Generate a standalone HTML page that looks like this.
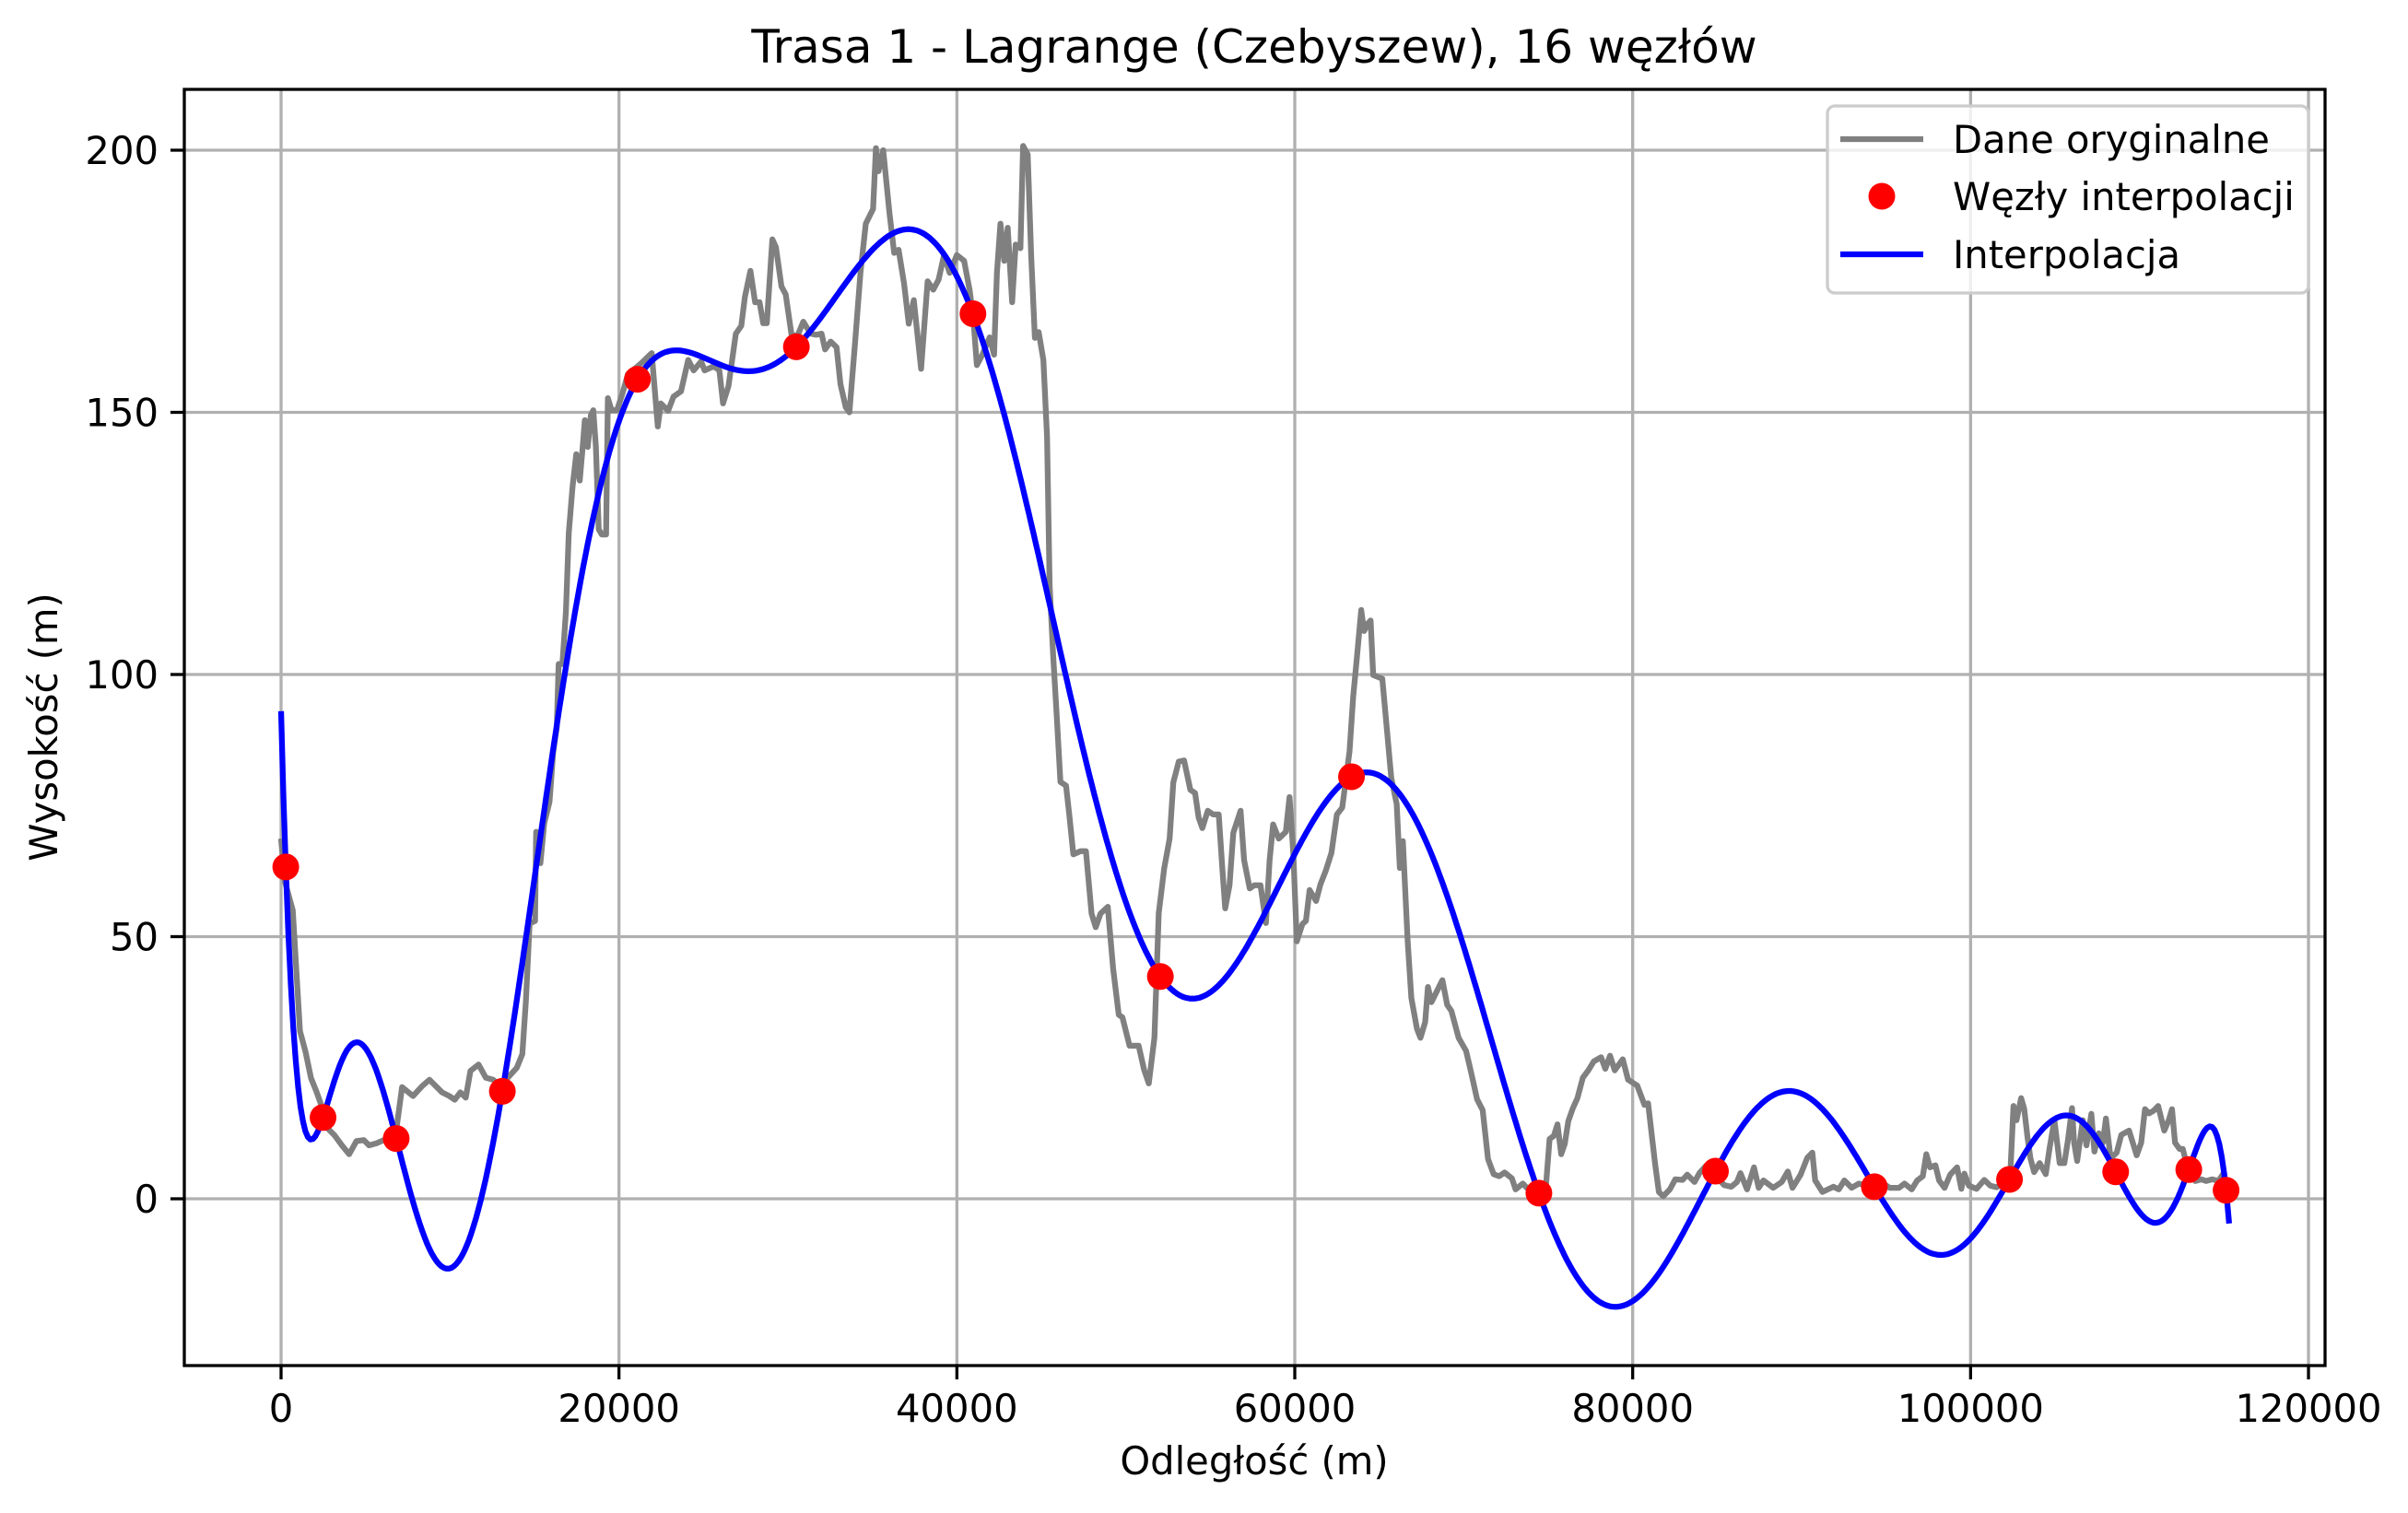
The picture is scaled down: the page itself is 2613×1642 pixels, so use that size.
<!DOCTYPE html>
<html><head><meta charset="utf-8">
<style>
html,body{margin:0;padding:0;background:#fff;}
svg{display:block;}
text{font-family:"DejaVu Sans","Liberation Sans",sans-serif;fill:#000;}
</style></head>
<body>
<svg id="chart" width="2613" height="1642" viewBox="0 0 2613 1642" xmlns="http://www.w3.org/2000/svg">
<rect x="0" y="0" width="2613" height="1642" fill="#fff"/>
<g id="grid"></g>
<g id="plot"></g>
<rect x="200" y="97" width="2323" height="1385" fill="none" stroke="#000" stroke-width="3.3"/>
<g id="ticks"></g>
<text x="1361" y="68" font-size="50" text-anchor="middle">Trasa 1 - Lagrange (Czebyszew), 16 węzłów</text>
<text x="1361" y="1600" font-size="41.7" text-anchor="middle">Odległość (m)</text>
<text x="0" y="0" font-size="41.7" text-anchor="middle" transform="translate(62,789) rotate(-90)">Wysokość (m)</text>
<g>
<rect x="1983" y="115" width="522" height="203" rx="8" fill="#fff" fill-opacity="0.8" stroke="#cccccc" stroke-width="3.3"/>
<line x1="1997" y1="151" x2="2087" y2="151" stroke="#808080" stroke-width="6.25"/>
<text x="2119" y="166" font-size="41.7">Dane oryginalne</text>
<circle cx="2042" cy="213" r="14.5" fill="#ff0000"/>
<text x="2119" y="228" font-size="41.7">Węzły interpolacji</text>
<line x1="1997" y1="276" x2="2087" y2="276" stroke="#0000ff" stroke-width="6.25"/>
<text x="2119" y="291" font-size="41.7">Interpolacja</text>
</g>
</svg>
<script>
const xTicks=[0,20000,40000,60000,80000,100000,120000];
const yTicks=[0,50,100,150,200];
const distances=[0,216,690,1120,1450,1770,2090,2410,2740,3170,3600,4030,4460,4900,5210,5650,6080,6730,7160,7810,8350,8780,9530,9960,10280,10610,10930,11210,11690,12120,12550,12990,13420,13950,14280,14490,14710,15030,15100,15350,15570,15890,16100,16320,16430,16650,16860,17030,17250,17470,17680,17850,17980,18150,18330,18480,18630,18800,18980,19240,19340,19560,19880,20200,20530,20960,21400,21940,22300,22480,22910,23230,23670,24100,24420,24860,25070,25620,25940,26160,26480,26920,27240,27450,27780,28060,28320,28540,28750,29080,29290,29620,29870,30220,30580,30910,31340,31660,31990,32200,32530,32880,33110,33420,33640,33960,34290,34610,35040,35210,35360,35640,36010,36290,36550,36870,37150,37450,37880,38270,38600,38920,39240,39570,40000,40430,40750,40970,41180,41510,41940,42200,42370,42580,42800,43010,43270,43480,43760,43920,44190,44400,44620,44840,45120,45340,45490,45700,45920,46130,46460,46670,46890,47320,47640,47970,48220,48500,48930,49250,49580,49800,50220,50760,51080,51360,51690,51950,52270,52590,52810,53130,53450,53820,54100,54310,54530,54850,55170,55500,55710,55880,56140,56360,56790,57000,57330,57610,57970,58290,58510,58720,59050,59470,59690,59910,60120,60450,60660,60880,61260,61520,61840,62170,62490,62810,63240,63460,63670,63930,64100,64320,64490,64640,65180,65500,65710,66030,66220,66400,66680,66900,67230,67440,67720,67880,68090,68410,68740,69020,69270,69700,70140,70470,70790,71120,71440,71770,72090,72420,72850,73070,73500,73820,74370,74860,75080,75330,75550,75770,75980,76190,76450,76730,77050,77370,77700,78130,78380,78660,78940,79410,79730,80270,80700,80910,81340,81550,81810,82200,82520,82950,83230,83660,83950,84340,85420,85840,86170,86380,86770,87180,87460,87740,88320,88820,89180,89460,89940,90330,90630,90800,91230,91880,92200,92530,92960,93390,94140,94680,95220,95760,96090,96520,96840,97170,97380,97600,97920,98140,98460,98790,99200,99450,99630,99900,100350,100810,101170,101540,102080,102360,102540,102720,102990,103170,103360,103540,103760,104090,104450,104670,104960,105270,105550,105770,106000,106130,106310,106640,106860,107150,107330,107590,107830,108010,108290,108650,108920,109380,109830,110100,110320,110560,110830,111100,111460,111740,111920,112100,112370,112560,112740,113300,113670,113940,114300,114670,115000];
const elevations=[68.7,60.6,55,32,28,23,20.5,17.6,13.5,12.1,10.2,8.5,11,11.2,10.2,10.6,11.2,11,21.3,19.6,21.5,22.7,20.3,19.6,18.9,20.3,19.3,24.4,25.6,23.1,22.7,21.5,23.1,25,27.6,37.8,52.5,53,70,64,71.6,75.7,85,90,102,102,112,127,135.8,142,137,143.4,148.5,143.4,149.4,150.4,143.5,127.7,126.7,126.7,152.7,150.4,150.4,153.5,157.3,158.4,159.6,161.3,147.3,151.7,150.3,153,154,160,158,159.7,158,158.8,158,151.7,155,165,166.5,172,177,171,171,167,167,183,181.5,174,172.5,164.7,164.7,167.3,165,164.8,165,162,163.5,162.4,155.4,151,150,162.7,176.6,186,188.8,200.4,196,200,188,180.4,181,174.6,166.9,171.4,158.3,175,173.4,175.3,180,176.6,180,178.9,173.4,168.2,159,161,164.3,161,176.6,186,178.9,185.2,171,182,181.3,200.8,199.2,179.7,164.2,165.3,160,145.3,117,103.7,91.5,79.5,78.8,72.8,65.7,66.3,66.3,54.4,51.8,54.4,55.7,43.9,35.1,34.6,29.2,29.2,24.6,22,30.7,54.5,63,68.7,79.4,83.4,83.6,78,77.4,72.7,70.7,74,73.3,73.3,63,55.4,59.8,69.8,74,64.6,59.2,59.8,59.8,52.6,64.6,71.4,68.7,70,76.6,66,49.1,52.4,53,58.9,56.8,60,62.6,66,73.3,74.6,85.3,95.8,103,112.3,108.3,109.7,110.3,99.9,99.2,87.9,80.3,75.3,63.1,68.2,49.2,38.3,32.4,30.7,33.7,40.4,37.5,39.6,41.7,37,35.8,30.7,28.2,23.6,19,16.9,7.6,4.7,4.3,5,3.9,1.8,2.9,1.8,1.1,2.1,11.4,12,14.2,8.5,10.5,14.8,17.2,19.2,23.1,24.5,26.2,27,24.8,27.3,24.5,26.6,22.7,21.6,17.9,18.2,6.4,1.3,0.5,1.8,3.7,3.6,4.6,3.2,4.9,6.3,2.6,2.3,3.2,4.9,1.8,6,2.1,3.5,2.1,3.2,5.2,2.1,4.6,7.8,8.8,3.5,1.3,2.3,1.8,3.5,2.1,2.9,2.3,3.2,2.1,2.1,2.9,1.8,3.5,4.3,8.5,6,6.4,3.5,2.1,4.6,6,1.9,4.8,2.5,1.9,3.6,2.5,2.2,3.4,5.4,17.7,15,19.2,17.2,11.9,7.7,5.1,6.8,4.7,9.6,15,6.8,6.8,11.3,17.3,10.7,7.2,15,10.2,16.2,9,12.5,10.7,15.3,7.7,8.8,12.2,13,8.3,10.7,17.1,16.3,16.8,17.7,13,15.1,17.1,10.7,9.5,9.5,7.2,3.4,3.7,3.4,3.7,3.4,5];
const nodeX=[278,2485,6813,13097,21096,30500,40951,52044,63356,74449,84900,94304,102303,108587,112915,115122];
const nodeY=[63.3,15.5,11.5,20.5,156.3,162.5,168.8,42.4,80.5,1.07,5.27,2.3,3.7,5.15,5.57,1.63];
const interpRange=[0,115300];

const NS="http://www.w3.org/2000/svg";
function X(v){return 305+v/20000*366.67;}
function Y(v){return 1301-v*5.69;}
const grid=document.getElementById('grid'),ticks=document.getElementById('ticks'),plot=document.getElementById('plot');
function mk(tag,attrs,parent){const e=document.createElementNS(NS,tag);for(const k in attrs)e.setAttribute(k,attrs[k]);parent.appendChild(e);return e;}
xTicks.forEach(t=>{
  const gl=mk('line',{x1:X(t),x2:X(t),y1:97,y2:1482,stroke:'#b0b0b0','stroke-width':3.3},grid);
  
  
  const tk=mk('line',{x1:X(t),x2:X(t),y1:1482,y2:1497,stroke:'#000','stroke-width':3.3},ticks);
  
  
  const tx=mk('text',{x:X(t),y:1543,'font-size':41.7,'text-anchor':'middle'},ticks);
  tx.textContent=String(t);
  
  
});
yTicks.forEach(t=>{
  const gl=mk('line',{x1:200,x2:2523,y1:Y(t),y2:Y(t),stroke:'#b0b0b0','stroke-width':3.3},grid);
  
  
  const tk=mk('line',{x1:185,x2:200,y1:Y(t),y2:Y(t),stroke:'#000','stroke-width':3.3},ticks);
  
  
  const tx=mk('text',{x:172,y:Y(t)+15,'font-size':41.7,'text-anchor':'end'},ticks);
  tx.textContent=String(t);
  
  
});
// original data
let d='';
distances.forEach((v,i)=>{d+=(i?'L':'M')+X(v).toFixed(1)+' '+Y(elevations[i]).toFixed(1);});
const gp=mk('path',{d:d,fill:'none',stroke:'#808080','stroke-width':6.25,'stroke-linejoin':'round'},plot);


// Lagrange interpolation
function lag(x){let s=0;for(let i=0;i<nodeX.length;i++){let p=nodeY[i];for(let j=0;j<nodeX.length;j++){if(j!==i)p*=(x-nodeX[j])/(nodeX[i]-nodeX[j]);}s+=p;}return s;}
let bd='';const N=800;
for(let k=0;k<=N;k++){const x=interpRange[0]+(interpRange[1]-interpRange[0])*k/N;bd+=(k?'L':'M')+X(x).toFixed(1)+' '+Y(lag(x)).toFixed(1);}
const bp=mk('path',{d:bd,fill:'none',stroke:'#0000ff','stroke-width':6.25,'stroke-linejoin':'round'},plot);


nodeX.forEach((v,i)=>{
  const c=mk('circle',{cx:X(v),cy:Y(nodeY[i]),r:14.5,fill:'#ff0000'},plot);
  
  
});
</script>
</body></html>
